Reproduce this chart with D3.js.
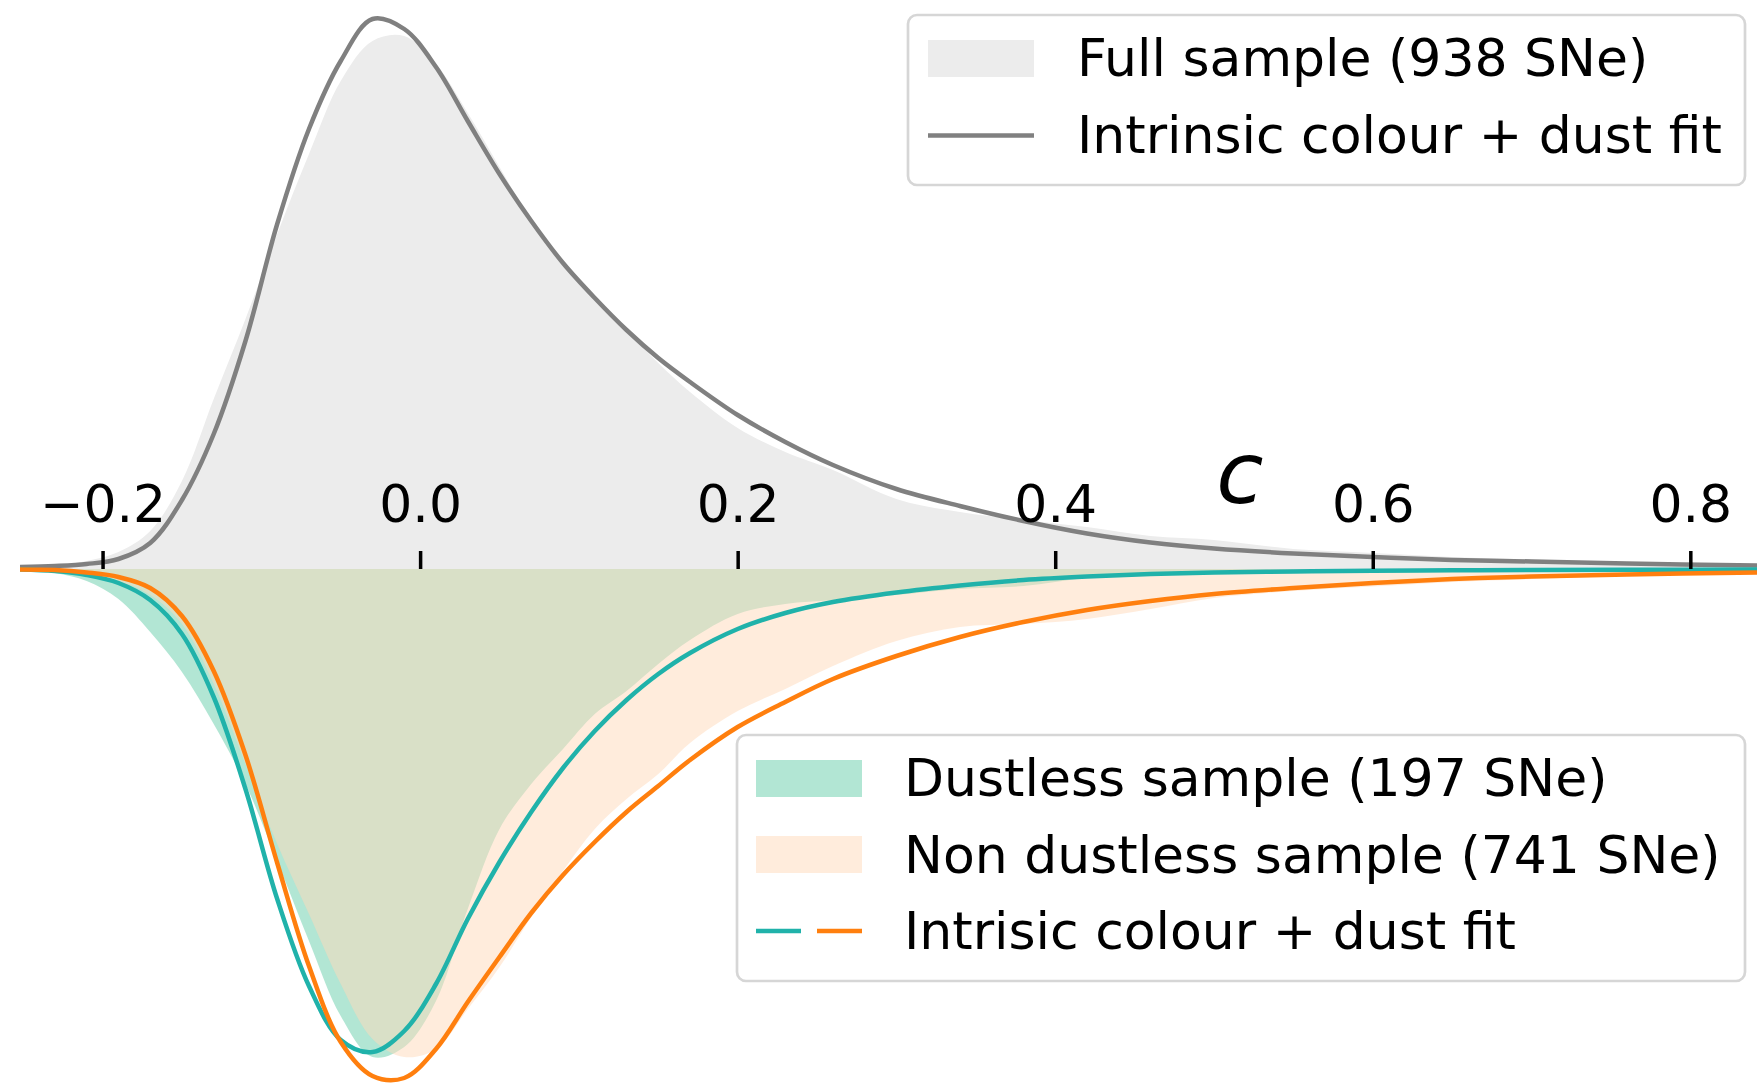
<!DOCTYPE html>
<html><head><meta charset="utf-8">
<script src="https://cdn.jsdelivr.net/npm/d3@7"></script>
<style>
body{margin:0;background:#fff}
svg{display:block}
</style>
</head><body>
<svg id="chart" width="1757" height="1083"></svg>
<script>
// colour index c (x positions of samples)
const cGrid = [-0.252,-0.23,-0.21,-0.19,-0.17,-0.15,-0.13,-0.11,-0.09,-0.07,-0.05,-0.03,-0.01,0.01,0.03,0.05,0.07,0.09,0.11,0.13,0.15,0.17,0.20,0.23,0.26,0.30,0.34,0.38,0.42,0.46,0.50,0.55,0.60,0.65,0.70,0.76,0.842];
// upward: full sample density and its fit
const fullSample = [0.01,0.03,0.08,0.17,0.38,0.88,1.70,2.50,3.35,4.15,4.88,5.28,5.33,5.05,4.56,4.02,3.48,3.06,2.71,2.39,2.06,1.77,1.41,1.17,0.99,0.70,0.57,0.49,0.42,0.33,0.29,0.20,0.16,0.12,0.095,0.07,0.05];
const fullFit = [0.02,0.03,0.05,0.10,0.26,0.69,1.35,2.28,3.45,4.40,5.08,5.50,5.40,5.02,4.48,3.95,3.48,3.06,2.71,2.39,2.11,1.87,1.54,1.27,1.04,0.80,0.63,0.48,0.355,0.265,0.205,0.155,0.12,0.09,0.075,0.055,0.035];
// downward (mirrored): dustless / non dustless densities and fits
const dustlessSample = [0.01,0.04,0.12,0.30,0.63,1.03,1.55,2.15,2.92,3.72,4.47,4.88,4.78,4.32,3.40,2.60,2.15,1.80,1.45,1.22,0.95,0.71,0.45,0.35,0.31,0.26,0.20,0.17,0.09,0.05,0.035,0.02,0.015,0.01,0.008,0.006,0.004];
const nonDustlessSample = [0.005,0.015,0.05,0.12,0.26,0.55,1.15,1.95,2.75,3.45,4.15,4.70,4.88,4.80,4.40,3.98,3.48,3.02,2.60,2.30,2.05,1.74,1.42,1.20,0.97,0.72,0.58,0.55,0.50,0.40,0.29,0.22,0.175,0.13,0.10,0.07,0.045];
const dustlessFit = [0.005,0.02,0.06,0.14,0.31,0.65,1.28,2.20,3.30,4.17,4.71,4.83,4.62,4.15,3.50,2.93,2.43,1.99,1.62,1.31,1.05,0.84,0.60,0.44,0.33,0.235,0.165,0.11,0.075,0.05,0.035,0.025,0.018,0.013,0.01,0.008,0.005];
const nonDustlessFit = [0.004,0.01,0.035,0.08,0.19,0.47,1.02,1.86,2.94,3.97,4.73,5.07,5.09,4.80,4.33,3.88,3.44,3.06,2.73,2.43,2.17,1.91,1.58,1.33,1.10,0.87,0.68,0.53,0.41,0.32,0.25,0.19,0.14,0.10,0.075,0.055,0.035];
const tickValues = [-0.2,0.0,0.2,0.4,0.6,0.8];
const legendTopLabels = ["Full sample (938 SNe)","Intrinsic colour + dust fit"];
const legendBottomLabels = ["Dustless sample (197 SNe)","Non dustless sample (741 SNe)","Intrisic colour + dust fit"];
const axisLabel = "c";

const svg = d3.select("#chart");
const W = 1757, H = 1083;
const x = d3.scaleLinear().domain([-0.252, 0.842]).range([20, W]);
const y = d3.scaleLinear().domain([-5.14, 5.69]).range([H, 0]);
const FONT = "'DejaVu Sans', sans-serif";

const pts = arr => cGrid.map((c, i) => ({c, v: arr[i]}));
const curve = d3.curveCatmullRom.alpha(0.5);
const areaUp = d3.area().x(d => x(d.c)).y0(y(0)).y1(d => y(d.v)).curve(curve);
const areaDown = d3.area().x(d => x(d.c)).y0(y(0)).y1(d => y(-d.v)).curve(curve);
const lineUp = d3.line().x(d => x(d.c)).y(d => y(d.v)).curve(curve);
const lineDown = d3.line().x(d => x(d.c)).y(d => y(-d.v)).curve(curve);

const COL = {
  grey: "#ececec", greyLine: "#808080",
  aqua: "rgba(102,205,170,0.5)", peach: "rgba(255,218,185,0.5)",
  teal: "#20b2aa", orange: "#ff7f0e"
};

svg.append("defs").append("clipPath").attr("id", "clip")
  .append("rect").attr("x", 20).attr("y", 0).attr("width", W - 20).attr("height", H);

const plot = svg.append("g").attr("clip-path", "url(#clip)");
plot.append("path").attr("d", areaUp(pts(fullSample))).attr("fill", COL.grey);
plot.append("path").attr("d", areaDown(pts(dustlessSample))).attr("fill", COL.aqua);
plot.append("path").attr("d", areaDown(pts(nonDustlessSample))).attr("fill", COL.peach);
plot.append("path").attr("d", lineUp(pts(fullFit))).attr("fill", "none").attr("stroke", COL.greyLine).attr("stroke-width", 4.5);
plot.append("path").attr("d", lineDown(pts(dustlessFit))).attr("fill", "none").attr("stroke", COL.teal).attr("stroke-width", 4.5);
plot.append("path").attr("d", lineDown(pts(nonDustlessFit))).attr("fill", "none").attr("stroke", COL.orange).attr("stroke-width", 4.5);

// axis with ticks pointing up and labels above
const axis = d3.axisTop(x).tickValues(tickValues).tickFormat(d3.format(".1f")).tickSize(18).tickPadding(29);
const ag = svg.append("g").attr("transform", `translate(0,${y(0)})`).call(axis);
ag.select(".domain").remove();
ag.selectAll(".tick line").attr("stroke", "#000").attr("stroke-width", 3.5);
ag.selectAll(".tick text").attr("fill", "#000").style("font-family", FONT).style("font-size", "52px");
ag.attr("font-family", null).attr("font-size", null);

svg.append("text").text(axisLabel).attr("x", 1240).attr("y", 503).attr("text-anchor", "middle")
  .style("font-family", FONT).style("font-style", "italic").style("font-size", "86px").attr("fill", "#000");

function frame(x0, y0, w, h) {
  svg.append("rect").attr("x", x0).attr("y", y0).attr("width", w).attr("height", h)
    .attr("rx", 9).attr("ry", 9).attr("fill", "rgba(255,255,255,0.8)")
    .attr("stroke", "#d6d6d6").attr("stroke-width", 2.7);
}
function label(t, x0, yb) {
  svg.append("text").text(t).attr("x", x0).attr("y", yb)
    .style("font-family", FONT).style("font-size", "52px").attr("fill", "#000");
}

// top legend
frame(908, 15, 837, 170);
svg.append("rect").attr("x", 928).attr("y", 40).attr("width", 106).attr("height", 37).attr("fill", COL.grey);
svg.append("line").attr("x1", 928).attr("x2", 1034).attr("y1", 135.5).attr("y2", 135.5).attr("stroke", COL.greyLine).attr("stroke-width", 4.5);
legendTopLabels.forEach((t, i) => label(t, 1077, 76 + i * 77));

// bottom legend
frame(737, 735, 1008, 246);
svg.append("rect").attr("x", 756).attr("y", 760).attr("width", 106).attr("height", 37).attr("fill", COL.aqua);
svg.append("rect").attr("x", 756).attr("y", 836).attr("width", 106).attr("height", 37).attr("fill", COL.peach);
svg.append("line").attr("x1", 756).attr("x2", 801).attr("y1", 931).attr("y2", 931).attr("stroke", COL.teal).attr("stroke-width", 4.5);
svg.append("line").attr("x1", 817).attr("x2", 862).attr("y1", 931).attr("y2", 931).attr("stroke", COL.orange).attr("stroke-width", 4.5);
legendBottomLabels.forEach((t, i) => label(t, 904, 796 + i * 76.5));
</script>
</body></html>
